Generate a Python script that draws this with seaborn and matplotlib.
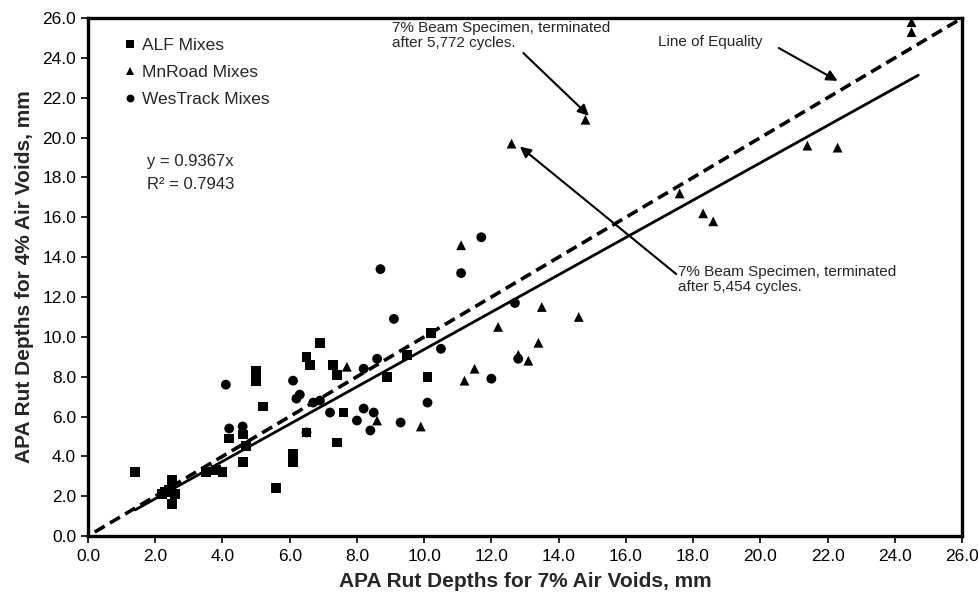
import matplotlib
matplotlib.use("Agg")
import matplotlib.pyplot as plt
import seaborn as sns
import pandas as pd
import numpy as np

# ---------------- data ----------------
alf_x = [1.4, 2.2, 2.3, 2.4, 2.5, 2.5, 2.6, 3.5, 3.8, 4.0, 4.2, 4.6, 4.6, 4.7,
         5.0, 5.0, 5.2, 5.6, 6.1, 6.1, 6.5, 6.6, 6.5, 6.9, 7.3, 7.4, 7.4, 7.6,
         8.9, 9.5, 10.1, 10.2]
alf_y = [3.2, 2.1, 2.2, 2.3, 1.6, 2.8, 2.1, 3.2, 3.3, 3.2, 4.9, 5.1, 3.7, 4.5,
         8.3, 7.8, 6.5, 2.4, 4.1, 3.7, 9.0, 8.6, 5.2, 9.7, 8.6, 8.1, 4.7, 6.2,
         8.0, 9.1, 8.0, 10.2]

mn_x = [7.7, 8.6, 9.9, 11.1, 11.2, 11.5, 12.2, 12.6, 12.8, 13.1, 13.4, 13.5,
        14.6, 14.8, 17.6, 18.3, 18.6, 21.4, 22.3, 24.5, 24.5]
mn_y = [8.5, 5.8, 5.5, 14.6, 7.8, 8.4, 10.5, 19.7, 9.1, 8.8, 9.7, 11.5,
        11.0, 20.9, 17.2, 16.2, 15.8, 19.6, 19.5, 25.8, 25.3]

wt_x = [4.1, 4.2, 4.6, 6.1, 6.2, 6.3, 6.7, 6.9, 7.2, 8.0, 8.2, 8.4, 8.5,
        8.6, 8.7, 8.2, 9.1, 9.3, 10.1, 10.5, 11.1, 11.7, 12.0, 12.7, 12.8, 6.5]
wt_y = [7.6, 5.4, 5.5, 7.8, 6.9, 7.1, 6.7, 6.8, 6.2, 5.8, 6.4, 5.3, 6.2,
        8.9, 13.4, 8.4, 10.9, 5.7, 6.7, 9.4, 13.2, 15.0, 7.9, 11.7, 8.9, 5.2]

series_names = ["ALF Mixes", "MnRoad Mixes", "WesTrack Mixes"]
slope = 0.9367
r2 = 0.7943
ticks = list(np.arange(0, 27, 2))
tick_labels = [f"{t:.1f}" for t in ticks]

df = pd.concat([
    pd.DataFrame({"x": alf_x, "y": alf_y, "Mix": series_names[0]}),
    pd.DataFrame({"x": mn_x, "y": mn_y, "Mix": series_names[1]}),
    pd.DataFrame({"x": wt_x, "y": wt_y, "Mix": series_names[2]}),
], ignore_index=True)

# ---------------- style ----------------
sns.set_style("white")
plt.rcParams["font.family"] = ["Liberation Sans", "DejaVu Sans"]

fig = plt.figure(figsize=(9.79, 6.05), dpi=100)
ax = fig.add_axes([0.0899, 0.114, 0.8927, 0.856])

markers = {series_names[0]: "s", series_names[1]: "^", series_names[2]: "o"}
sns.scatterplot(data=df, x="x", y="y", style="Mix", markers=markers,
                color="black", s=50, linewidth=0, edgecolor="black",
                ax=ax, legend=True)

# line of equality and regression line
eq_x = np.array([0.2, 26.0])
ax.plot(eq_x, eq_x, color="black", lw=2.6, ls=(0, (3.2, 1.7)), zorder=1)
reg_x = np.array([min(alf_x), 24.7])
ax.plot(reg_x, slope * reg_x, color="black", lw=2.0, zorder=1)

ax.set_xlim(0, 26)
ax.set_ylim(0, 26)
ax.set_xticks(ticks)
ax.set_xticklabels(tick_labels)
ax.set_yticks(ticks)
ax.set_yticklabels(tick_labels)
ax.tick_params(axis="both", direction="out", length=5, width=1.2,
               labelsize=12.5, colors="black", bottom=True, left=True)
ax.tick_params(axis="x", pad=4)
for sp in ax.spines.values():
    sp.set_linewidth(2.4)
    sp.set_color("black")

ax.set_xlabel("APA Rut Depths for 7% Air Voids, mm", fontsize=15,
              fontweight="bold", labelpad=6)
ax.set_ylabel("APA Rut Depths for 4% Air Voids, mm", fontsize=15,
              fontweight="bold", labelpad=6)

# legend
handles, labels = ax.get_legend_handles_labels()
ax.legend(handles, labels, loc="upper left", bbox_to_anchor=(0.028, 0.976),
          frameon=False, fontsize=12.5, handletextpad=0.1, labelspacing=0.7,
          markerscale=0.8, handlelength=1.2, borderaxespad=0)

# equation
ax.text(0.067, 0.738, f"y = {slope}x", transform=ax.transAxes,
        fontsize=12, va="top", ha="left")
ax.text(0.067, 0.693, f"R² = {r2}", transform=ax.transAxes,
        fontsize=12, va="top", ha="left")

# annotations
arrow = dict(arrowstyle="-|>", color="black", lw=1.5, mutation_scale=16,
             shrinkA=0, shrinkB=0)
ax.text(9.05, 25.85, "7% Beam Specimen, terminated\nafter 5,772 cycles.",
        fontsize=11, ha="left", va="top", linespacing=1.1)
ax.annotate("", xy=(14.9, 21.1), xytext=(12.95, 24.25), arrowprops=arrow)

ax.text(16.95, 24.8, "Line of Equality", fontsize=11, ha="left",
        va="center")
ax.annotate("", xy=(22.3, 22.85), xytext=(20.55, 24.5), arrowprops=arrow)

ax.text(17.55, 13.6, "7% Beam Specimen, terminated\nafter 5,454 cycles.",
        fontsize=11, ha="left", va="top", linespacing=1.1)
ax.annotate("", xy=(12.85, 19.55), xytext=(17.5, 13.15), arrowprops=arrow)

fig.savefig("out.png", dpi=100)
